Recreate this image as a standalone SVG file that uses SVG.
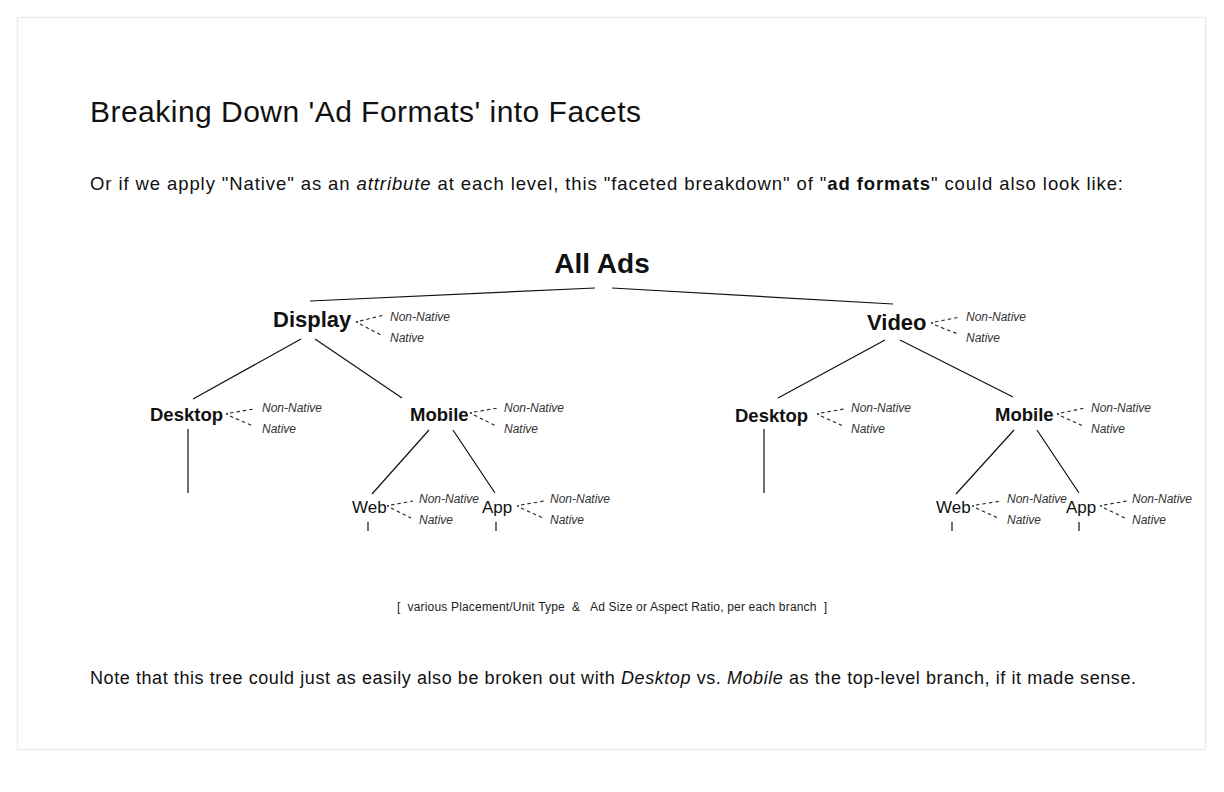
<svg xmlns="http://www.w3.org/2000/svg" width="1224" height="792" viewBox="0 0 1224 792">
<style>
text{font-family:"Liberation Sans",Arial,Helvetica,sans-serif;fill:#111}
.t1{font-size:28px;font-weight:bold;text-anchor:middle}
.t2{font-size:22px;font-weight:bold}
.t3{font-size:18.5px;font-weight:bold}
.t4{font-size:17px}
.att{font-size:12px;font-style:italic;fill:#333}
.edge{stroke:#111;stroke-width:1.2;fill:none}
.dash{stroke:#222;stroke-width:1.1;stroke-dasharray:3.5 3;fill:none}
.dot{fill:#222}
.tick{stroke:#111;stroke-width:1.2}
</style>
<rect width="1224" height="792" fill="#fff"/>
<rect x="17.5" y="17.5" width="1188" height="732" fill="#fff" stroke="#ececec" stroke-width="1.5"/>
<g id="header">
<text x="90" y="122" style="font-size:30px" textLength="551">Breaking Down 'Ad Formats' into Facets</text>
<text x="90" y="190" style="font-size:18.5px" textLength="1033">Or if we apply "Native" as an <tspan font-style="italic">attribute</tspan> at each level, this "faceted breakdown" of "<tspan font-weight="bold">ad formats</tspan>" could also look like:</text>
</g>
<g id="connectors">
<line class="edge" x1="310" y1="301" x2="595" y2="288"/>
<line class="edge" x1="612" y1="288" x2="893" y2="304"/>
<line class="edge" x1="301" y1="339" x2="193" y2="399"/>
<line class="edge" x1="315" y1="339" x2="402" y2="398"/>
<line class="edge" x1="885" y1="340" x2="778" y2="398"/>
<line class="edge" x1="900" y1="340" x2="1013" y2="397"/>
<line class="edge" x1="188" y1="429" x2="188" y2="493"/>
<line class="edge" x1="764" y1="429" x2="764" y2="493"/>
<line class="edge" x1="429" y1="430" x2="372" y2="494"/>
<line class="edge" x1="453" y1="430" x2="495" y2="493"/>
<line class="edge" x1="1014" y1="430" x2="956" y2="494"/>
<line class="edge" x1="1037" y1="430" x2="1079" y2="493"/>
<line class="tick" x1="368" y1="522" x2="368" y2="531"/>
<line class="tick" x1="496" y1="522" x2="496" y2="531"/>
<line class="tick" x1="952" y1="522" x2="952" y2="531"/>
<line class="tick" x1="1079" y1="522" x2="1079" y2="531"/>
</g>
<g id="all-ads"><text class="t1" x="602" y="273">All Ads</text></g>
<g id="display">
<text class="t2" x="273" y="327">Display</text>
<circle class="dot" cx="357" cy="322" r="1.1"/>
<path class="dash" d="M360 321 L384 315 M360 324 L381 335"/>
<text class="att" x="390" y="321">Non-Native</text>
<text class="att" x="390" y="342">Native</text>
</g>
<g id="video">
<text class="t2" x="867" y="330">Video</text>
<circle class="dot" cx="932" cy="323" r="1.1"/>
<path class="dash" d="M935 322 L960 317 M935 325 L958 334"/>
<text class="att" x="966" y="321">Non-Native</text>
<text class="att" x="966" y="342">Native</text>
</g>
<g id="display-desktop">
<text class="t3" x="150" y="421">Desktop</text>
<circle class="dot" cx="227" cy="414" r="1.1"/>
<path class="dash" d="M230 413 L254 409 M230 416 L253 426"/>
<text class="att" x="262" y="412">Non-Native</text>
<text class="att" x="262" y="433">Native</text>
</g>
<g id="display-mobile">
<text class="t3" x="410" y="421">Mobile</text>
<circle class="dot" cx="471" cy="413" r="1.1"/>
<path class="dash" d="M474 412 L498 408 M474 415 L496 426"/>
<text class="att" x="504" y="412">Non-Native</text>
<text class="att" x="504" y="433">Native</text>
</g>
<g id="display-mobile-web">
<text class="t4" x="352" y="513">Web</text>
<circle class="dot" cx="388" cy="506" r="1"/>
<path class="dash" d="M391 505 L413 501 M391 508 L411 518"/>
<text class="att" x="419" y="503">Non-Native</text>
<text class="att" x="419" y="524">Native</text>
</g>
<g id="display-mobile-app">
<text class="t4" x="482" y="513">App</text>
<circle class="dot" cx="518" cy="506" r="1"/>
<path class="dash" d="M521 505 L544 501 M521 508 L543 518"/>
<text class="att" x="550" y="503">Non-Native</text>
<text class="att" x="550" y="524">Native</text>
</g>
<g id="video-desktop">
<text class="t3" x="735" y="422">Desktop</text>
<circle class="dot" cx="818" cy="414" r="1.1"/>
<path class="dash" d="M821 413 L844 409 M821 416 L843 426"/>
<text class="att" x="851" y="412">Non-Native</text>
<text class="att" x="851" y="433">Native</text>
</g>
<g id="video-mobile">
<text class="t3" x="995" y="421">Mobile</text>
<circle class="dot" cx="1058" cy="414" r="1.1"/>
<path class="dash" d="M1061 413 L1085 408 M1061 416 L1083 426"/>
<text class="att" x="1091" y="412">Non-Native</text>
<text class="att" x="1091" y="433">Native</text>
</g>
<g id="video-mobile-web">
<text class="t4" x="936" y="513">Web</text>
<circle class="dot" cx="973" cy="506" r="1"/>
<path class="dash" d="M976 505 L1001 501 M976 508 L998 518"/>
<text class="att" x="1007" y="503">Non-Native</text>
<text class="att" x="1007" y="524">Native</text>
</g>
<g id="video-mobile-app">
<text class="t4" x="1066" y="513">App</text>
<circle class="dot" cx="1101" cy="506" r="1"/>
<path class="dash" d="M1104 505 L1127 501 M1104 508 L1125 518"/>
<text class="att" x="1132" y="503">Non-Native</text>
<text class="att" x="1132" y="524">Native</text>
</g>
<g id="leaf-note">
<text x="397" y="611" style="font-size:12px;fill:#222" xml:space="preserve" textLength="430">[  various Placement/Unit Type  &amp;   Ad Size or Aspect Ratio, per each branch  ]</text>
</g>
<g id="footer">
<text x="90" y="684" style="font-size:18px" textLength="1046">Note that this tree could just as easily also be broken out with <tspan font-style="italic">Desktop</tspan> vs. <tspan font-style="italic">Mobile</tspan> as the top-level branch, if it made sense.</text>
</g>
</svg>
